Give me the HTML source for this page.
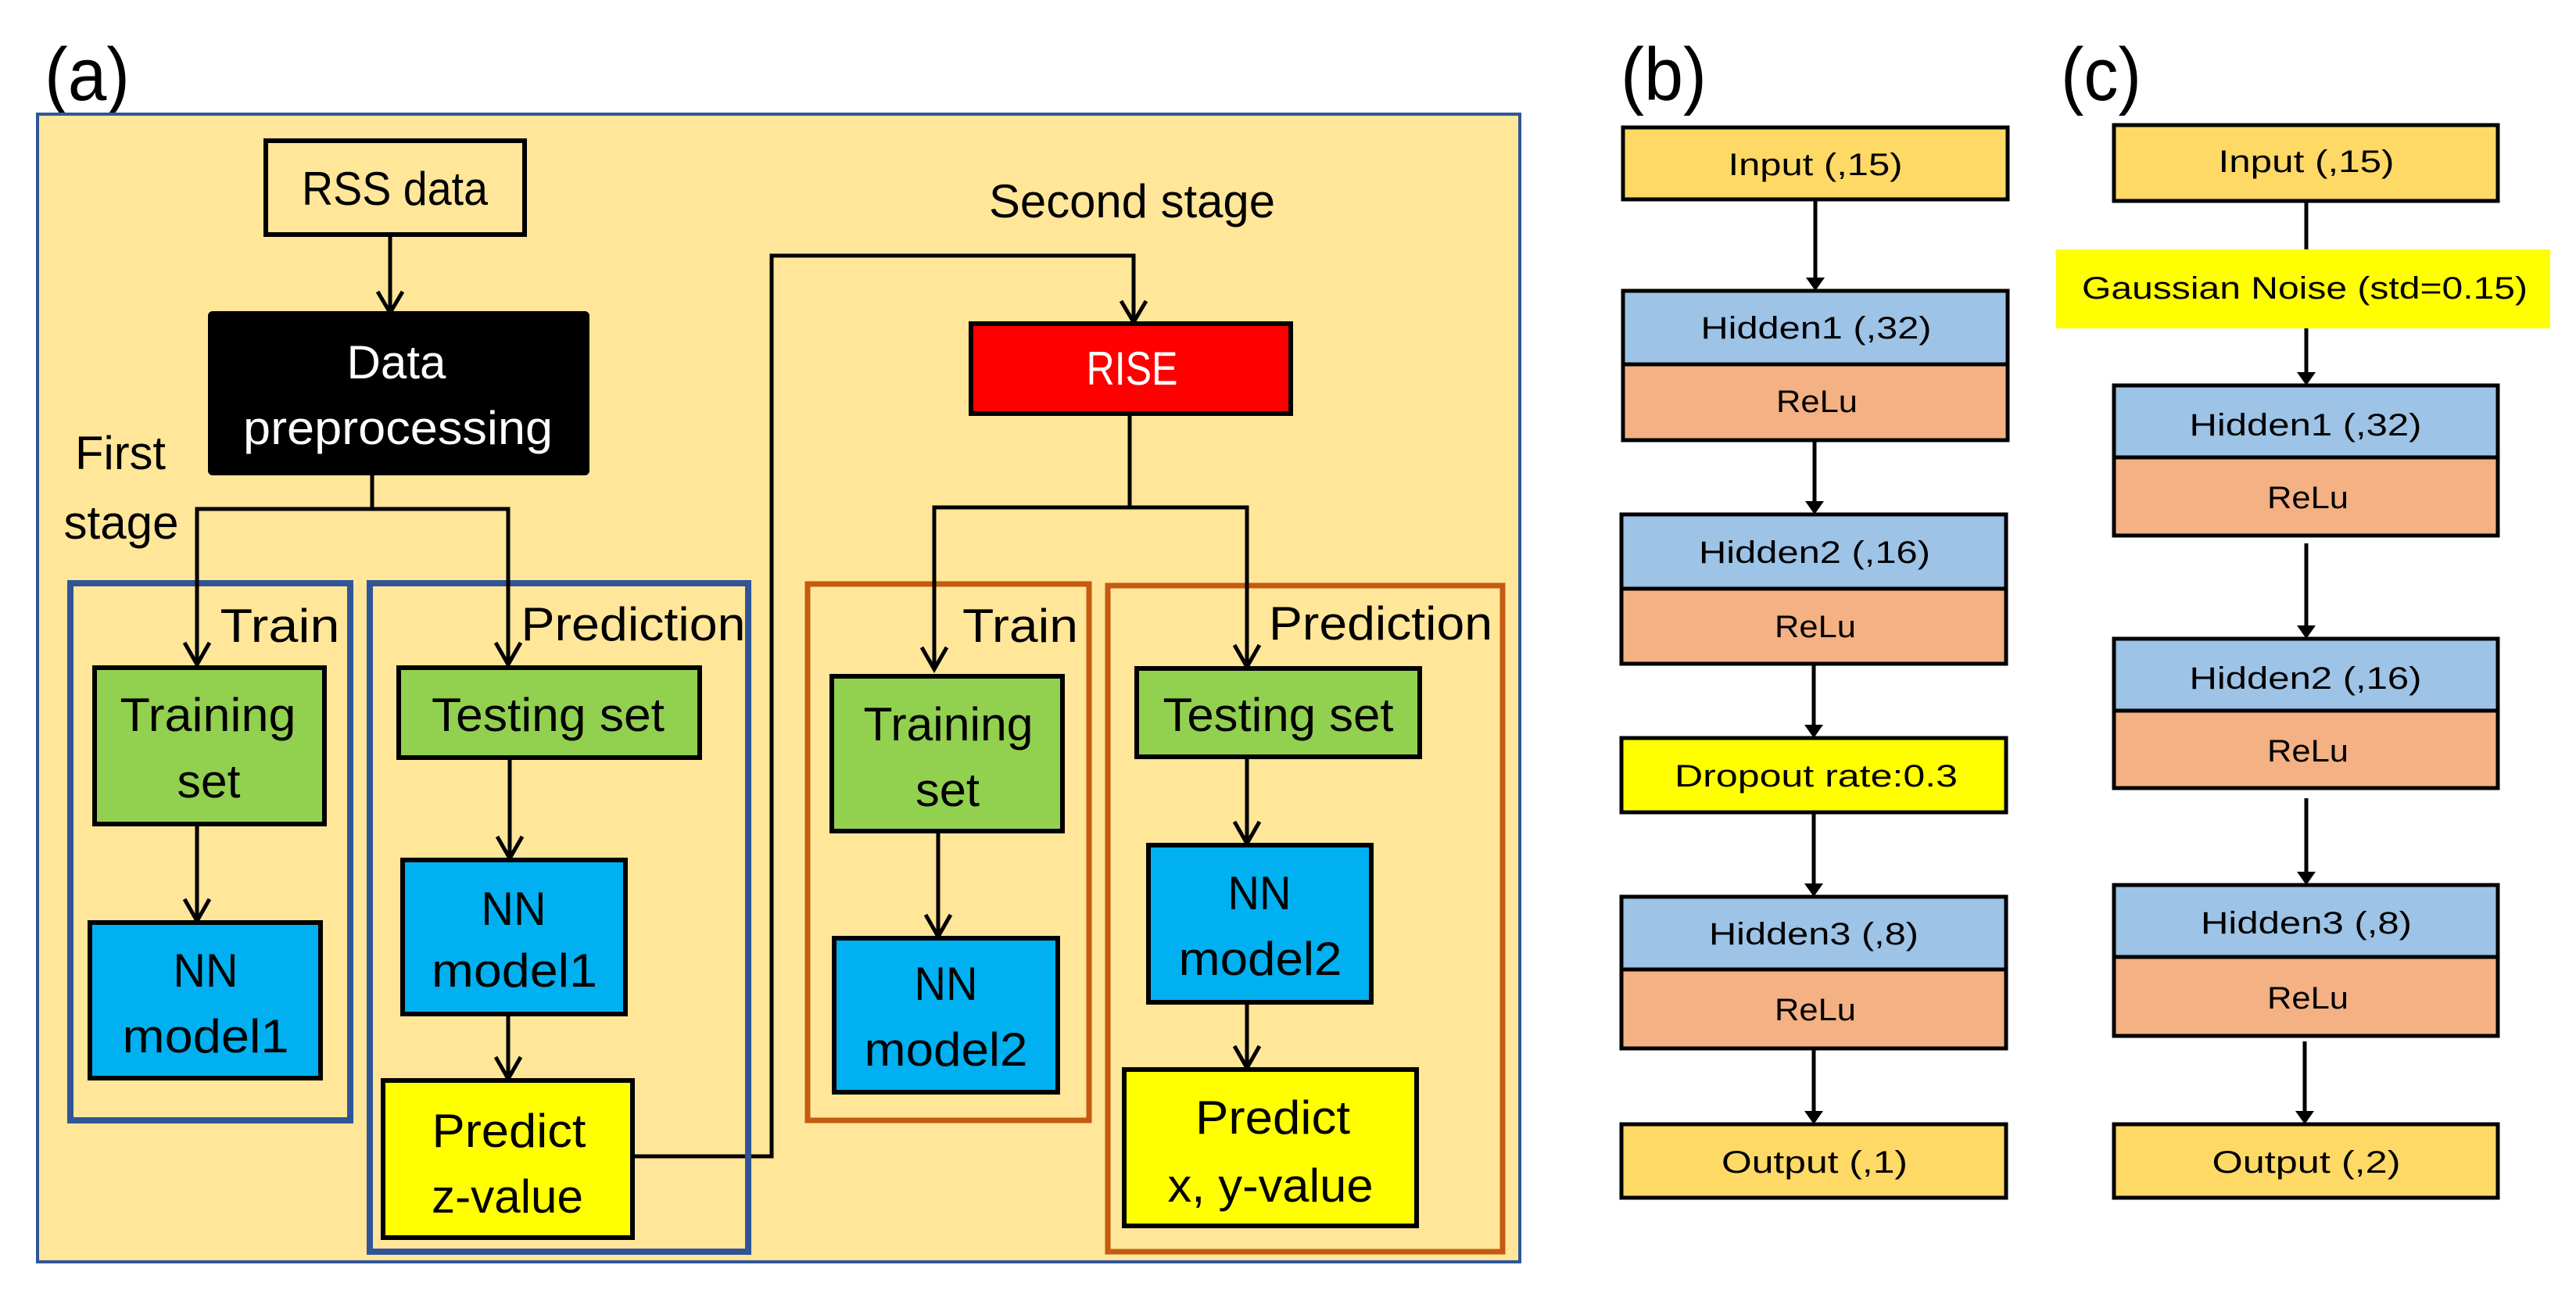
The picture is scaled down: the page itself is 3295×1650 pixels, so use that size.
<!DOCTYPE html>
<html><head><meta charset="utf-8"><style>
html,body{margin:0;padding:0;background:#fff;}
svg{display:block;}
text{font-family:"Liberation Sans",sans-serif;}
</style></head><body>
<svg width="3295" height="1650" viewBox="0 0 3295 1650" xmlns="http://www.w3.org/2000/svg">
<defs>
<marker id="v" markerWidth="40" markerHeight="40" refX="17" refY="32" orient="auto-start-reverse" markerUnits="userSpaceOnUse" viewBox="0 0 40 40">
</marker>
</defs>
<!-- labels -->
<text x="57" y="128" font-size="96" textLength="109" lengthAdjust="spacingAndGlyphs">(a)</text>
<text x="2073" y="128" font-size="96" textLength="110" lengthAdjust="spacingAndGlyphs">(b)</text>
<text x="2636" y="128" font-size="96" textLength="103" lengthAdjust="spacingAndGlyphs">(c)</text>

<!-- frame a -->
<rect x="48" y="146" width="1896" height="1468" fill="#FFE699" stroke="#2F5597" stroke-width="4"/>

<g fill="none" stroke="#000" stroke-width="5">
<!-- RSS -->
<rect x="340" y="180" width="331" height="120" fill="#FFE699" stroke-width="6"/>
<!-- lines -->
<line x1="499" y1="300" x2="499" y2="400"/>
<polyline points="483,373 499,400 515,373"/>
<polyline points="476,605 476,651"/>
<polyline points="252,745 252,651 650,651 650,850"/>
<line x1="252" y1="745" x2="252" y2="850"/>
<polyline points="236,822 252,850 268,822"/>
<polyline points="634,822 650,850 666,822"/>
<line x1="252" y1="1054" x2="252" y2="1178"/>
<polyline points="236,1150 252,1178 268,1150"/>
<line x1="652" y1="969" x2="652" y2="1098"/>
<polyline points="636,1070 652,1098 668,1070"/>
<line x1="650" y1="1297" x2="650" y2="1380"/>
<polyline points="634,1352 650,1380 666,1352"/>
<polyline points="809,1479 987,1479 987,327 1450,327 1450,412"/>
<polyline points="1434,385 1450,412 1466,385"/>
<polyline points="1445,529 1445,649"/>
<polyline points="1195,856 1195,649 1595,649 1595,853"/>
<polyline points="1179,828 1195,856 1211,828"/>
<polyline points="1579,825 1595,853 1611,825"/>
<line x1="1200" y1="1063" x2="1200" y2="1198"/>
<polyline points="1184,1170 1200,1198 1216,1170"/>
<line x1="1595" y1="968" x2="1595" y2="1079"/>
<polyline points="1579,1051 1595,1079 1611,1051"/>
<line x1="1595" y1="1282" x2="1595" y2="1366"/>
<polyline points="1579,1338 1595,1366 1611,1338"/>
</g>

<!-- group boxes -->
<rect x="90" y="746" width="358" height="687" fill="none" stroke="#2F5597" stroke-width="8"/>
<rect x="473" y="746" width="484" height="855" fill="none" stroke="#2F5597" stroke-width="8"/>
<rect x="1033" y="747" width="360" height="686" fill="none" stroke="#C55A11" stroke-width="7"/>
<rect x="1417" y="749" width="505" height="852" fill="none" stroke="#C55A11" stroke-width="7"/>
<!-- redraw vertical lines over frames -->
<g stroke="#000" stroke-width="5"><line x1="252" y1="700" x2="252" y2="848"/><line x1="650" y1="700" x2="650" y2="848"/><line x1="1195" y1="700" x2="1195" y2="852"/><line x1="1595" y1="700" x2="1595" y2="850"/></g>

<!-- nodes a -->
<g stroke="#000" stroke-width="6">
<rect x="269" y="401" width="482" height="204" fill="#000" rx="3"/>
<rect x="121" y="854" width="294" height="200" fill="#92D050"/>
<rect x="115" y="1180" width="295" height="199" fill="#00B0F0"/>
<rect x="510" y="854" width="385" height="115" fill="#92D050"/>
<rect x="515" y="1100" width="285" height="197" fill="#00B0F0"/>
<rect x="490" y="1382" width="319" height="201" fill="#FFFF00"/>
<rect x="1242" y="414" width="409" height="115" fill="#FF0000"/>
<rect x="1064" y="865" width="295" height="198" fill="#92D050"/>
<rect x="1067" y="1200" width="286" height="197" fill="#00B0F0"/>
<rect x="1454" y="855" width="362" height="113" fill="#92D050"/>
<rect x="1469" y="1081" width="285" height="201" fill="#00B0F0"/>
<rect x="1438" y="1368" width="374" height="200" fill="#FFFF00"/>
</g>

<g font-size="60" text-anchor="middle" fill="#000">
<text x="505" y="262" textLength="238" lengthAdjust="spacingAndGlyphs">RSS data</text>
<text x="507" y="484" fill="#fff" textLength="127" lengthAdjust="spacingAndGlyphs">Data</text>
<text x="509" y="568" fill="#fff" textLength="396" lengthAdjust="spacingAndGlyphs">preprocessing</text>
<text x="154" y="600" textLength="116" lengthAdjust="spacingAndGlyphs">First</text>
<text x="155" y="689" textLength="147" lengthAdjust="spacingAndGlyphs">stage</text>
<text x="358" y="821" textLength="153" lengthAdjust="spacingAndGlyphs">Train</text>
<text x="810" y="819" textLength="287" lengthAdjust="spacingAndGlyphs">Prediction</text>
<text x="266" y="935" textLength="225" lengthAdjust="spacingAndGlyphs">Training</text>
<text x="267" y="1020" textLength="81" lengthAdjust="spacingAndGlyphs">set</text>
<text x="263" y="1262" textLength="83" lengthAdjust="spacingAndGlyphs">NN</text>
<text x="263" y="1346" textLength="213" lengthAdjust="spacingAndGlyphs">model1</text>
<text x="701" y="935" textLength="298" lengthAdjust="spacingAndGlyphs">Testing set</text>
<text x="657" y="1183" textLength="83" lengthAdjust="spacingAndGlyphs">NN</text>
<text x="658" y="1262" textLength="212" lengthAdjust="spacingAndGlyphs">model1</text>
<text x="651" y="1467" textLength="197" lengthAdjust="spacingAndGlyphs">Predict</text>
<text x="649" y="1551" textLength="194" lengthAdjust="spacingAndGlyphs">z-value</text>
<text x="1448" y="278" textLength="366" lengthAdjust="spacingAndGlyphs">Second stage</text>
<text x="1448" y="492" fill="#fff" textLength="117" lengthAdjust="spacingAndGlyphs">RISE</text>
<text x="1305" y="821" textLength="148" lengthAdjust="spacingAndGlyphs">Train</text>
<text x="1766" y="818" textLength="286" lengthAdjust="spacingAndGlyphs">Prediction</text>
<text x="1213" y="947" textLength="217" lengthAdjust="spacingAndGlyphs">Training</text>
<text x="1212" y="1031" textLength="82" lengthAdjust="spacingAndGlyphs">set</text>
<text x="1210" y="1279" textLength="81" lengthAdjust="spacingAndGlyphs">NN</text>
<text x="1210" y="1363" textLength="209" lengthAdjust="spacingAndGlyphs">model2</text>
<text x="1635" y="935" textLength="295" lengthAdjust="spacingAndGlyphs">Testing set</text>
<text x="1611" y="1163" textLength="81" lengthAdjust="spacingAndGlyphs">NN</text>
<text x="1612" y="1247" textLength="209" lengthAdjust="spacingAndGlyphs">model2</text>
<text x="1628" y="1450" textLength="198" lengthAdjust="spacingAndGlyphs">Predict</text>
<text x="1625" y="1537" textLength="263" lengthAdjust="spacingAndGlyphs">x, y-value</text>
</g>

<!-- (b) -->
<g stroke="#000" stroke-width="5">
<line x1="2322" y1="255" x2="2322" y2="360"/>
<line x1="2321" y1="563" x2="2321" y2="646"/>
<line x1="2320" y1="849" x2="2320" y2="932"/>
<line x1="2320" y1="1039" x2="2320" y2="1135"/>
<line x1="2320" y1="1341" x2="2320" y2="1426"/>
<line x1="2950" y1="257" x2="2950" y2="320"/>
<line x1="2950" y1="420" x2="2950" y2="481"/>
<line x1="2950" y1="695" x2="2950" y2="805"/>
<line x1="2950" y1="1021" x2="2950" y2="1120"/>
<line x1="2948" y1="1332" x2="2948" y2="1426"/>
</g>
<g fill="#000">
<polygon points="2310,355 2334,355 2322,372"/>
<polygon points="2309,641 2333,641 2321,658"/>
<polygon points="2308,927 2332,927 2320,944"/>
<polygon points="2308,1130 2332,1130 2320,1147"/>
<polygon points="2308,1421 2332,1421 2320,1438"/>
<polygon points="2938,476 2962,476 2950,493"/>
<polygon points="2938,800 2962,800 2950,817"/>
<polygon points="2938,1115 2962,1115 2950,1132"/>
<polygon points="2936,1421 2960,1421 2948,1438"/>
</g>
<rect x="2630" y="319" width="632" height="101" fill="#FFFF00"/>
<g stroke="#000" stroke-width="5">
<rect x="2076" y="163" width="492" height="92" fill="#FFD966"/>
<rect x="2076" y="372" width="492" height="94" fill="#9DC3E6"/>
<rect x="2076" y="466" width="492" height="97" fill="#F4B183"/>
<rect x="2074" y="658" width="492" height="95" fill="#9DC3E6"/>
<rect x="2074" y="753" width="492" height="96" fill="#F4B183"/>
<rect x="2074" y="944" width="492" height="95" fill="#FFFF00"/>
<rect x="2074" y="1147" width="492" height="93" fill="#9DC3E6"/>
<rect x="2074" y="1240" width="492" height="101" fill="#F4B183"/>
<rect x="2074" y="1438" width="492" height="94" fill="#FFD966"/>
<rect x="2704" y="160" width="491" height="97" fill="#FFD966"/>
<rect x="2704" y="493" width="491" height="92" fill="#9DC3E6"/>
<rect x="2704" y="585" width="491" height="100" fill="#F4B183"/>
<rect x="2704" y="817" width="491" height="92" fill="#9DC3E6"/>
<rect x="2704" y="909" width="491" height="99" fill="#F4B183"/>
<rect x="2704" y="1132" width="491" height="92" fill="#9DC3E6"/>
<rect x="2704" y="1224" width="491" height="101" fill="#F4B183"/>
<rect x="2704" y="1438" width="491" height="94" fill="#FFD966"/>
</g>
<g font-size="40" text-anchor="middle" fill="#000">
<text x="2322" y="224" textLength="223" lengthAdjust="spacingAndGlyphs">Input (,15)</text>
<text x="2323" y="433" textLength="295" lengthAdjust="spacingAndGlyphs">Hidden1 (,32)</text>
<text x="2324" y="527" textLength="104" lengthAdjust="spacingAndGlyphs">ReLu</text>
<text x="2321" y="720" textLength="296" lengthAdjust="spacingAndGlyphs">Hidden2 (,16)</text>
<text x="2322" y="815" textLength="104" lengthAdjust="spacingAndGlyphs">ReLu</text>
<text x="2323" y="1006" textLength="362" lengthAdjust="spacingAndGlyphs">Dropout rate:0.3</text>
<text x="2320" y="1208" textLength="268" lengthAdjust="spacingAndGlyphs">Hidden3 (,8)</text>
<text x="2322" y="1305" textLength="104" lengthAdjust="spacingAndGlyphs">ReLu</text>
<text x="2321" y="1500" textLength="238" lengthAdjust="spacingAndGlyphs">Output (,1)</text>
<text x="2950" y="220" textLength="225" lengthAdjust="spacingAndGlyphs">Input (,15)</text>
<text x="2948" y="382" textLength="570" lengthAdjust="spacingAndGlyphs">Gaussian Noise (std=0.15)</text>
<text x="2949" y="557" textLength="297" lengthAdjust="spacingAndGlyphs">Hidden1 (,32)</text>
<text x="2952" y="650" textLength="104" lengthAdjust="spacingAndGlyphs">ReLu</text>
<text x="2949" y="881" textLength="297" lengthAdjust="spacingAndGlyphs">Hidden2 (,16)</text>
<text x="2952" y="974" textLength="104" lengthAdjust="spacingAndGlyphs">ReLu</text>
<text x="2950" y="1194" textLength="270" lengthAdjust="spacingAndGlyphs">Hidden3 (,8)</text>
<text x="2952" y="1290" textLength="104" lengthAdjust="spacingAndGlyphs">ReLu</text>
<text x="2950" y="1500" textLength="241" lengthAdjust="spacingAndGlyphs">Output (,2)</text>
</g>
</svg>
</body></html>
